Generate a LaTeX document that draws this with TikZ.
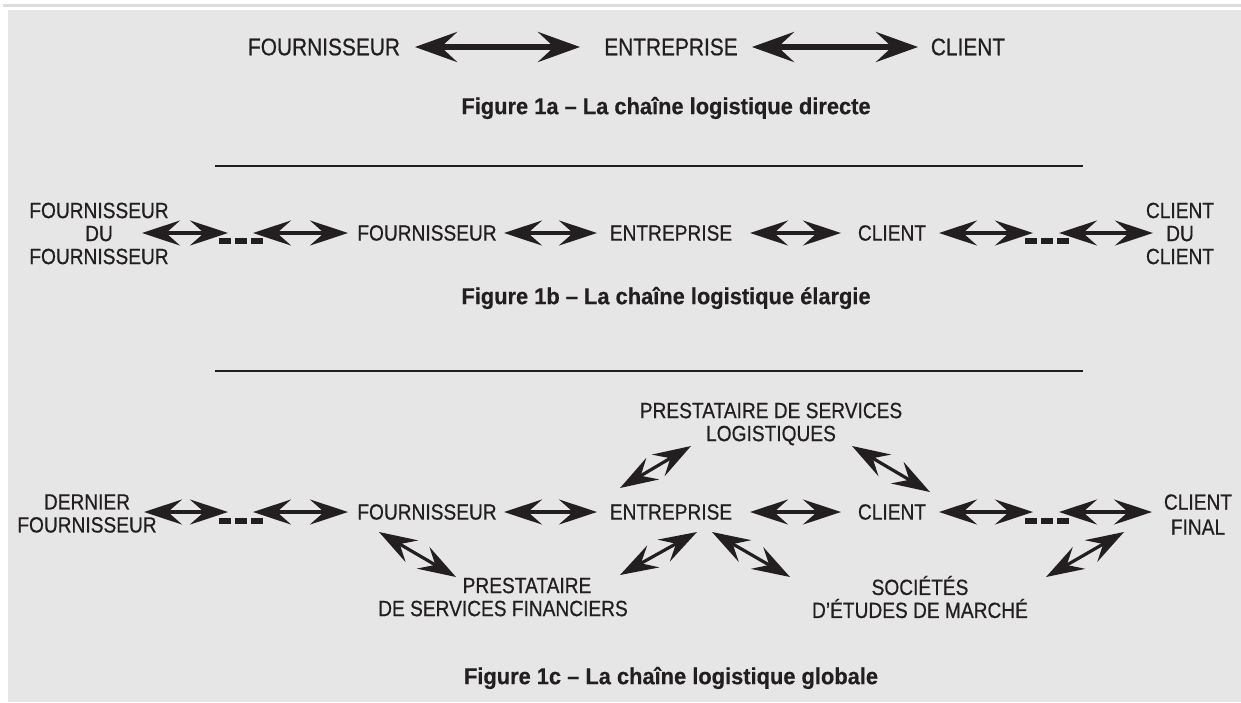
\documentclass[tikz,border=0pt]{standalone}
\usepackage{fontspec}
\setmainfont{Liberation Sans}
\newfontfamily\labfont[FakeStretch=0.87,FakeBold=0.6]{Liberation Sans}
\newfontfamily\capfont[FakeStretch=0.95,FakeBold=0.5]{Liberation Sans Bold}
\usetikzlibrary{arrows.meta}
\definecolor{ink}{HTML}{231F20}
\definecolor{bgc}{HTML}{E6E6E6}
\definecolor{topline}{HTML}{DCDCDC}
\begin{document}
\begin{tikzpicture}[x=1pt,y=-1pt,
  lab/.style={inner sep=0pt, text=ink, font=\labfont\fontsize{22}{23}\selectfont, align=center},
  laba/.style={inner sep=0pt, text=ink, font=\labfont\fontsize{24}{25}\selectfont},
  captxt/.style={inner sep=0pt, text=ink, font=\capfont\fontsize{23}{26}\selectfont},
  dbl/.style={draw=ink, line width=3.2pt, {Stealth[length=38pt,width=25pt,inset=14pt]}-{Stealth[length=38pt,width=25pt,inset=14pt]}},
  dbla/.style={draw=ink, line width=5.5pt, {Stealth[length=42pt,width=30pt,inset=16pt]}-{Stealth[length=42pt,width=30pt,inset=16pt]}},
  dashes/.style={draw=ink, line width=5.5pt, dash pattern=on 12pt off 4pt},
  sepline/.style={draw=ink, line width=2pt}]
\useasboundingbox (0,0) rectangle (1241,702);
\fill[white] (0,0) rectangle (1241,702);
\fill[topline] (3,4) rectangle (1241,6.5);
\fill[bgc] (8,10) rectangle (1241,702);

% ---------- Figure 1a ----------
\node[laba] (fa) at (324,47) {FOURNISSEUR};
\node[laba] (ea) at (671,47) {ENTREPRISE};
\node[laba] (ca) at (968,47) {CLIENT};
\draw[dbla] ([shift={(91,0)}]fa.center) -- ([shift={(-91,0)}]ea.center);
\draw[dbla] ([shift={(81,0)}]ea.center) -- ([shift={(-50,0)}]ca.center);
\node[captxt] (cap1) at (666,108) {Figure 1a – La chaîne logistique directe};

\draw[sepline] (215,166) -- (1083,166);

% ---------- Figure 1b ----------
\node[lab] (fl) at (99,233.5) {FOURNISSEUR\\DU\\FOURNISSEUR};
\coordinate (dl2) at (241,233);
\node[lab] (f2) at (427,233) {FOURNISSEUR};
\node[lab] (e2) at (671,233) {ENTREPRISE};
\node[lab] (c2) at (892,233) {CLIENT};
\coordinate (dr2) at (1047,233);
\node[lab] (cr) at (1180,233.5) {CLIENT\\DU\\CLIENT};
\draw[dbl] ([shift={(43,-0.5)}]fl.center) -- ([shift={(-13,0)}]dl2);
\draw[dashes] ([shift={(-22,8)}]dl2) -- ([shift={(22,8)}]dl2);
\draw[dbl] ([shift={(12,0)}]dl2) -- ([shift={(-79,0)}]f2.center);
\draw[dbl] ([shift={(77,0)}]f2.center) -- ([shift={(-74,0)}]e2.center);
\draw[dbl] ([shift={(79,0)}]e2.center) -- ([shift={(-51,0)}]c2.center);
\draw[dbl] ([shift={(47,0)}]c2.center) -- ([shift={(-14,0)}]dr2);
\draw[dashes] ([shift={(-22,8)}]dr2) -- ([shift={(22,8)}]dr2);
\draw[dbl] ([shift={(12,0)}]dr2) -- ([shift={(-27,-0.5)}]cr.center);
\node[captxt] (cap2) at (666,298) {Figure 1b – La chaîne logistique élargie};

\draw[sepline] (215,371) -- (1083,371);

% ---------- Figure 1c ----------
\node[lab] (df) at (87,513.5) {DERNIER\\FOURNISSEUR};
\coordinate (dl3) at (241,512);
\node[lab] (f3) at (427,512) {FOURNISSEUR};
\node[lab] (e3) at (671,512) {ENTREPRISE};
\node[lab] (c3) at (892,512) {CLIENT};
\coordinate (dr3) at (1047,512);
\node[lab, font=\labfont\fontsize{22}{25}\selectfont] (cf) at (1198,514.5) {CLIENT\\FINAL};
\node[lab] (psl) at (771,424) {PRESTATAIRE DE SERVICES\\LOGISTIQUES};
\node[lab] (psf) at (503,597) {\hspace*{48pt}PRESTATAIRE\\DE SERVICES FINANCIERS};
\node[lab] (sem) at (920,597) {SOCIÉTÉS\\D’ÉTUDES DE MARCHÉ};

\draw[dbl] ([shift={(57,-1.5)}]df.center) -- ([shift={(-13,0)}]dl3);
\draw[dashes] ([shift={(-22,9)}]dl3) -- ([shift={(22,9)}]dl3);
\draw[dbl] ([shift={(12,0)}]dl3) -- ([shift={(-79,0)}]f3.center);
\draw[dbl] ([shift={(77,0)}]f3.center) -- ([shift={(-74,0)}]e3.center);
\draw[dbl] ([shift={(79,0)}]e3.center) -- ([shift={(-51,0)}]c3.center);
\draw[dbl] ([shift={(47,0)}]c3.center) -- ([shift={(-14,0)}]dr3);
\draw[dashes] ([shift={(-22,9)}]dr3) -- ([shift={(22,9)}]dr3);
\draw[dbl] ([shift={(12,0)}]dr3) -- ([shift={(-46,-2.5)}]cf.center);

\draw[dbl] ([shift={(-51,-24)}]e3.center) -- ([shift={(-80,22)}]psl.center);
\draw[dbl] ([shift={(81,22)}]psl.center) -- ([shift={(38,-20)}]c3.center);
\draw[dbl] ([shift={(-48,20)}]f3.center) -- ([shift={(-47,-20)}]psf.center);
\draw[dbl] ([shift={(26,20)}]e3.center) -- ([shift={(117,-22)}]psf.center);
\draw[dbl] ([shift={(41,20)}]e3.center) -- ([shift={(-130,-20)}]sem.center);
\draw[dbl] ([shift={(126,-20)}]sem.center) -- ([shift={(-74,17.5)}]cf.center);

\node[captxt] (cap3) at (671,678) {Figure 1c – La chaîne logistique globale};
\end{tikzpicture}
\end{document}
